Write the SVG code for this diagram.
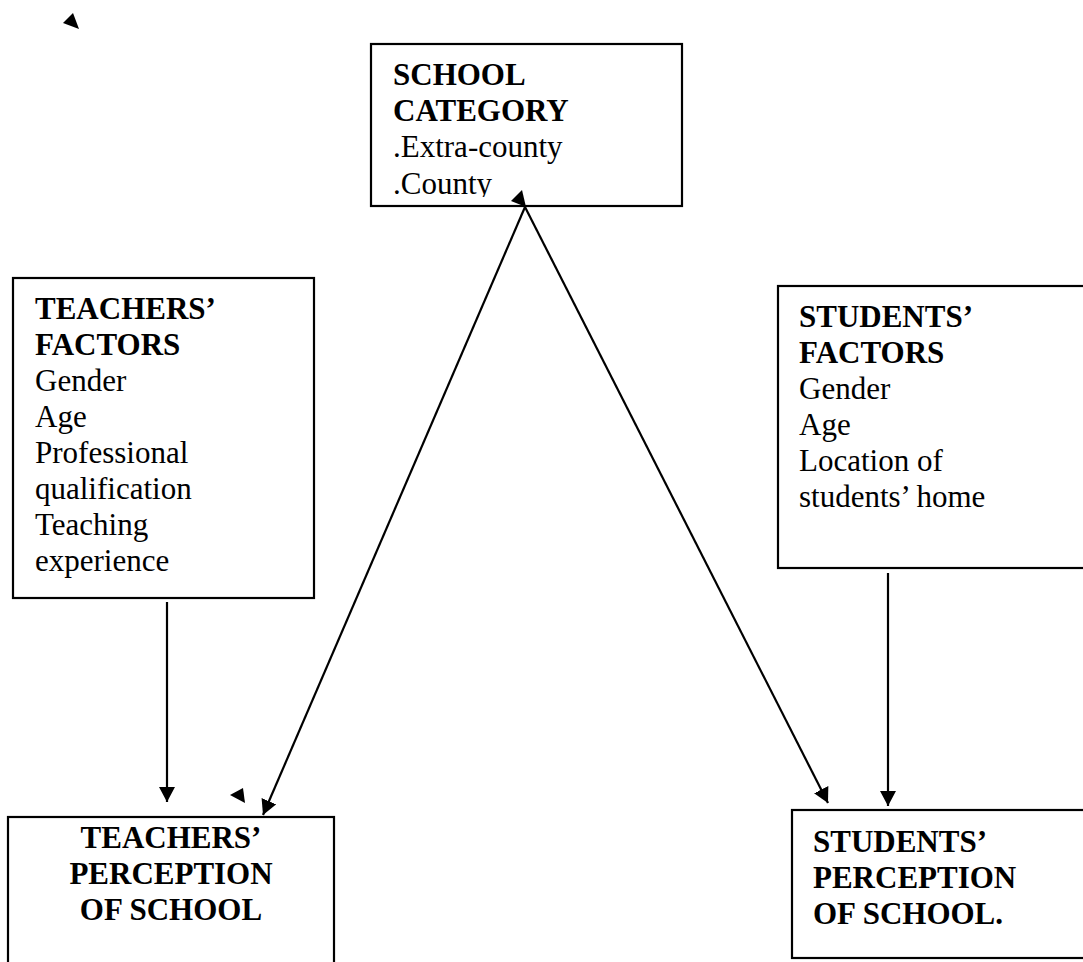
<svg xmlns="http://www.w3.org/2000/svg" width="1083" height="962" viewBox="0 0 1083 962">
<style>
.box{fill:#fff;stroke:#000;stroke-width:2.2}
.t{font-family:"Liberation Serif","Times New Roman",serif;font-size:31px;fill:#000}
.b{font-weight:bold}
.c{stroke:#000;stroke-width:2.2;fill:none}
</style>
<defs>
<marker id="ah" markerUnits="userSpaceOnUse" markerWidth="16" markerHeight="16" refX="15" refY="8" orient="auto">
<path d="M0,0 L15,8 L0,16 z" fill="#000"/>
</marker>
<clipPath id="schoolClip"><rect x="371" y="44" width="311" height="153"/></clipPath>
</defs>
<rect width="1083" height="962" fill="#fff"/>

<g id="school-category">
<rect class="box" x="371" y="44" width="311" height="162"/>
<g clip-path="url(#schoolClip)">
<text class="t b" x="393" y="85">SCHOOL</text>
<text class="t b" x="393" y="121">CATEGORY</text>
<text class="t" x="393" y="157">.Extra-county</text>
<text class="t" x="393" y="194">.County</text>
</g>
</g>

<g id="teachers-factors">
<rect class="box" x="13" y="278" width="301" height="320"/>
<text class="t b" x="35" y="319">TEACHERS’</text>
<text class="t b" x="35" y="355">FACTORS</text>
<text class="t" x="35" y="391">Gender</text>
<text class="t" x="35" y="427">Age</text>
<text class="t" x="35" y="463">Professional</text>
<text class="t" x="35" y="499">qualification</text>
<text class="t" x="35" y="535">Teaching</text>
<text class="t" x="35" y="571">experience</text>
</g>

<g id="students-factors">
<rect class="box" x="778" y="286" width="320" height="282"/>
<text class="t b" x="799" y="327">STUDENTS’</text>
<text class="t b" x="799" y="363">FACTORS</text>
<text class="t" x="799" y="399">Gender</text>
<text class="t" x="799" y="435">Age</text>
<text class="t" x="799" y="471">Location of</text>
<text class="t" x="799" y="507">students’ home</text>
</g>

<g id="teachers-perception">
<rect class="box" x="8" y="817" width="326" height="160"/>
<text class="t b" x="171" y="848" text-anchor="middle">TEACHERS’</text>
<text class="t b" x="171" y="884" text-anchor="middle">PERCEPTION</text>
<text class="t b" x="171" y="920" text-anchor="middle">OF SCHOOL</text>
</g>

<g id="students-perception">
<rect class="box" x="792" y="810" width="310" height="148"/>
<text class="t b" x="813" y="852">STUDENTS’</text>
<text class="t b" x="813" y="888">PERCEPTION</text>
<text class="t b" x="813" y="924">OF SCHOOL.</text>
</g>

<g id="connectors">
<line class="c" x1="167" y1="602" x2="167" y2="802" marker-end="url(#ah)"/>
<line class="c" x1="888" y1="573" x2="888" y2="806" marker-end="url(#ah)"/>
<line class="c" x1="525" y1="207" x2="263" y2="815" marker-end="url(#ah)"/>
<line class="c" x1="525" y1="207" x2="828" y2="803" marker-end="url(#ah)"/>
<polygon points="511,201 522,190 526,207" fill="#000"/>
<polygon points="63,23 73,13 79,29" fill="#000"/>
<polygon points="230,795 243,788 245,803" fill="#000"/>
</g>
</svg>
